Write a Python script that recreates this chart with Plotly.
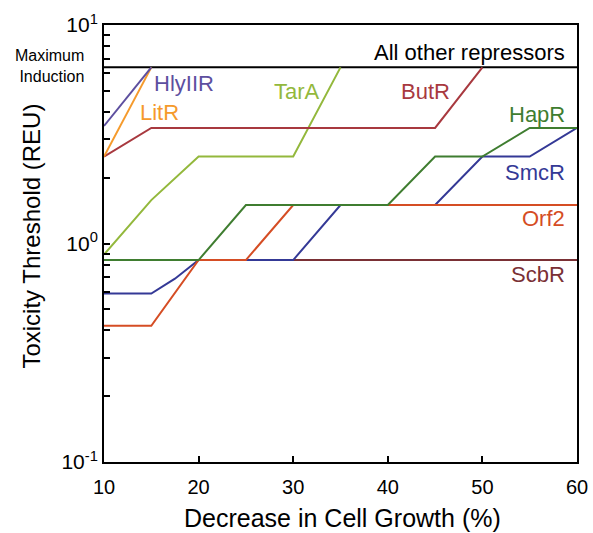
import plotly.graph_objects as go

# ---- data ----
max_induction = 6.4
x_range = [10, 60]

hlyiir_x = [10, 15]
hlyiir_y = [3.45, 6.4]
litr_x = [10, 15]
litr_y = [2.5, 6.4]
butr_x = [10, 15, 45, 50]
butr_y = [2.5, 3.38, 3.38, 6.4]
tara_x = [10, 15, 20, 30, 35]
tara_y = [0.89, 1.58, 2.5, 2.5, 6.4]
scbr_x = [10, 60]
scbr_y = [0.84, 0.84]
smcr_x = [10, 15, 17.5, 20, 30, 35, 45, 50, 55, 60]
smcr_y = [0.59, 0.59, 0.69, 0.84, 0.84, 1.5, 1.5, 2.5, 2.5, 3.38]
orf2_x = [10, 15, 20, 25, 30, 60]
orf2_y = [0.42, 0.42, 0.84, 0.84, 1.5, 1.5]
hapr_x = [10, 20, 25, 40, 45, 50, 55, 60]
hapr_y = [0.84, 0.84, 1.5, 1.5, 2.5, 2.5, 3.38, 3.38]

y_tickvals = [0.1, 1, 10]
y_ticktext = ["10<sup>-1</sup>", "10<sup>0</sup>", "10<sup>1</sup>"]
y_minor = [0.2, 0.3, 0.4, 0.5, 0.6, 0.7, 0.8, 0.9, 2, 3, 4, 5, 6, 7, 8, 9]

colors = {
    "HlyIIR": "#5d4f9f",
    "LitR": "#f59a2c",
    "TarA": "#93b83c",
    "ButR": "#a8393f",
    "HapR": "#3f7d30",
    "SmcR": "#343996",
    "Orf2": "#d54d24",
    "ScbR": "#7a3035",
}

FONT = "Liberation Sans, Arial, sans-serif"
W, H = 593, 533
L, R, T, B = 103.5, 577, 25, 462  # plot area in window pixels


def px(x):
    return (x - L) / (R - L)


def py(y):
    return (B - y) / (B - T)


series = [
    ("ScbR", scbr_x, scbr_y),
    ("SmcR", smcr_x, smcr_y),
    ("Orf2", orf2_x, orf2_y),
    ("HapR", hapr_x, hapr_y),
    ("TarA", tara_x, tara_y),
    ("ButR", butr_x, butr_y),
    ("LitR", litr_x, litr_y),
    ("HlyIIR", hlyiir_x, hlyiir_y),
]

fig = go.Figure()
fig.add_trace(go.Scatter(x=x_range, y=[max_induction, max_induction], mode="lines",
                         line=dict(color="black", width=2), showlegend=False, hoverinfo="skip"))
for name, xs, ys in series:
    fig.add_trace(go.Scatter(x=xs, y=ys, mode="lines", name=name,
                             line=dict(color=colors[name], width=2), showlegend=False))

labels = [
    ("HlyIIR", 152, 83, "left"),
    ("LitR", 138, 112, "left"),
    ("TarA", 272, 92, "left"),
    ("ButR", 399, 92, "left"),
    ("HapR", 567, 114, "right"),
    ("SmcR", 567, 172, "right"),
    ("Orf2", 567, 218, "right"),
    ("ScbR", 567, 274, "right"),
]
ann = []
for name, x, y, anc in labels:
    ann.append(dict(text=name, x=px(x), y=py(y), xref="paper", yref="paper",
                    xanchor=anc, yanchor="middle", showarrow=False,
                    font=dict(family=FONT, size=22, color=colors[name])))
ann.append(dict(text="All other repressors", x=px(567), y=py(52), xref="paper", yref="paper",
                xanchor="right", yanchor="middle", showarrow=False,
                font=dict(family=FONT, size=22, color="black")))
ann.append(dict(text="Maximum<br>Induction", x=px(85), y=py(66), xref="paper", yref="paper",
                xanchor="right", yanchor="middle", showarrow=False, align="right",
                font=dict(family=FONT, size=16, color="black")))
ann.append(dict(text="Decrease in Cell Growth (%)", x=px((L + R) / 2 + 2), y=py(518), xref="paper",
                yref="paper", xanchor="center", yanchor="middle", showarrow=False,
                font=dict(family=FONT, size=25, color="black")))
ann.append(dict(text="Toxicity Threshold (REU)", x=px(30), y=py(236), xref="paper",
                yref="paper", xanchor="center", yanchor="middle", showarrow=False, textangle=-90,
                font=dict(family=FONT, size=24, color="black")))

fig.update_layout(
    width=W, height=H,
    margin=dict(l=L, r=W - R, t=T, b=H - B),
    paper_bgcolor="white", plot_bgcolor="white",
    annotations=ann,
    font=dict(family=FONT, color="black"),
)
fig.update_xaxes(range=x_range, dtick=10, tick0=10, ticks="inside", ticklen=6, tickwidth=1.5,
                 tickcolor="black", showline=True, mirror=True, linecolor="black", linewidth=2,
                 showgrid=False, zeroline=False, tickfont=dict(family=FONT, size=20),
                 ticklabelstandoff=6, automargin=False)
fig.update_yaxes(type="log", range=[-1, 1], tickvals=y_tickvals, ticktext=y_ticktext,
                 ticks="inside", ticklen=6, tickwidth=1.5, tickcolor="black",
                 minor=dict(tickvals=y_minor, ticks="inside", ticklen=6, tickcolor="black", tickwidth=1.5,
                            showgrid=False),
                 showline=True, mirror=True, linecolor="black", linewidth=2,
                 showgrid=False, zeroline=False, tickfont=dict(family=FONT, size=21),
                 automargin=False)

fig.write_html("out.html", config={"displayModeBar": False},
               post_script="document.body.style.margin='0';document.body.style.overflow='hidden';")
